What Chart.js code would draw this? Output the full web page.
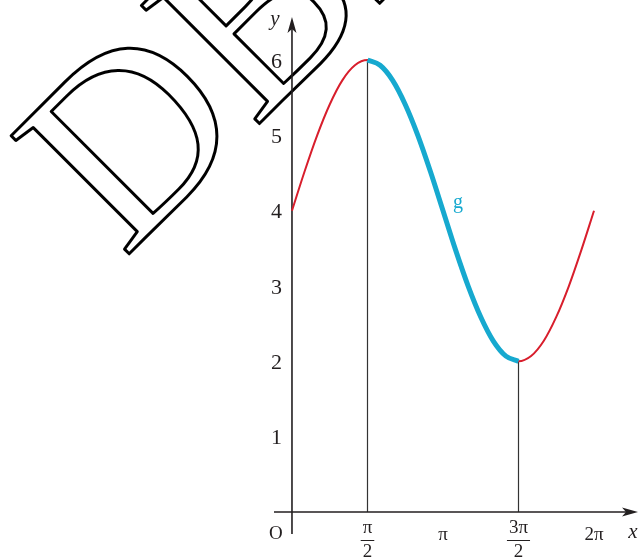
<!DOCTYPE html>
<html>
<head>
<meta charset="utf-8">
<script src="https://cdn.jsdelivr.net/npm/chart.js@4.4.1/dist/chart.umd.min.js"></script>
<style>
  html, body { margin: 0; padding: 0; background: #ffffff; }
  #wrap { width: 639px; height: 557px; position: relative; }
</style>
</head>
<body>
<div id="wrap"><canvas id="chart" width="639" height="557"></canvas></div>
<script>
// values: y = curve height at each x (radians)
const xValues = [0, 0.262, 0.524, 0.785, 1.047, 1.309, 1.571, 1.833, 2.094, 2.356, 2.618, 2.880, 3.142,
                 3.403, 3.665, 3.927, 4.189, 4.451, 4.712, 4.974, 5.236, 5.498, 5.760, 6.021, 6.283];
const yValues = [4, 4.52, 5, 5.41, 5.73, 5.93, 6, 5.93, 5.73, 5.41, 5, 4.52, 4,
                 3.48, 3, 2.59, 2.27, 2.07, 2, 2.07, 2.27, 2.59, 3, 3.48, 4];

// highlighted part g: from pi/2 to 3pi/2
const gStart = 1.571;
const gEnd = 4.712;

const yTickValues = [1, 2, 3, 4, 5, 6];
const xTickValues = [1.571, 3.142, 4.712, 6.283];
const xTickLabels = [['π', '2'], ['π'], ['3π', '2'], ['2π']];
const guideLinesX = [1.571, 4.712];
const guideLinesY = [6, 2];

const curvePoints = xValues.map((x, i) => ({ x: x, y: yValues[i] }));
const gPoints = curvePoints.filter(p => p.x >= gStart - 0.001 && p.x <= gEnd + 0.001);

const INK = '#231f20';
const RED = '#d81e2c';
const CYAN = '#16a9cf';
const SERIF = '"Liberation Serif", "DejaVu Serif", serif';

const watermarkPlugin = {
    id: 'watermark',
    beforeDatasetsDraw(chart) {
        const ctx = chart.ctx;
        ctx.save();
        ctx.translate(124, 259);
        ctx.rotate(-Math.PI / 4);
        ctx.font = '255px ' + SERIF;
        ctx.textBaseline = 'alphabetic';
        ctx.lineWidth = 3;
        ctx.lineJoin = 'round';
        ctx.strokeStyle = '#000000';
        ctx.strokeText('DBE', 0, 0);
        ctx.restore();
    }
};

function arrowHead(ctx, tipX, tipY, dx, dy) {
    // dx, dy = unit direction of the arrow
    const len = 16, half = 4.5, notch = 12;
    const px = -dy, py = dx;
    ctx.beginPath();
    ctx.moveTo(tipX, tipY);
    ctx.lineTo(tipX - dx * len + px * half, tipY - dy * len + py * half);
    ctx.lineTo(tipX - dx * notch, tipY - dy * notch);
    ctx.lineTo(tipX - dx * len - px * half, tipY - dy * len - py * half);
    ctx.closePath();
    ctx.fill();
}

const axesPlugin = {
    id: 'mathAxes',
    beforeDatasetsDraw(chart) {
        const ctx = chart.ctx;
        const xs = chart.scales.x, ys = chart.scales.y;
        const ox = xs.getPixelForValue(0), oy = ys.getPixelForValue(0);
        ctx.save();

        // guide lines from the x axis up to the curve
        ctx.strokeStyle = '#333333';
        ctx.lineWidth = 1.2;
        guideLinesX.forEach((gx, i) => {
            const px = Math.round(xs.getPixelForValue(gx)) + 0.5;
            ctx.beginPath();
            ctx.moveTo(px, oy);
            ctx.lineTo(px, ys.getPixelForValue(guideLinesY[i]));
            ctx.stroke();
        });

        // axes
        ctx.strokeStyle = INK;
        ctx.fillStyle = INK;
        ctx.lineWidth = 1.6;
        ctx.beginPath();
        ctx.moveTo(ox - 18, oy);
        ctx.lineTo(chart.width - 6, oy);
        ctx.moveTo(ox, oy + 22);
        ctx.lineTo(ox, 24);
        ctx.stroke();
        arrowHead(ctx, chart.width - 1, oy, 1, 0);
        arrowHead(ctx, ox, 17, 0, -1);

        // y tick labels
        ctx.font = '22px ' + SERIF;
        ctx.textAlign = 'right';
        ctx.textBaseline = 'alphabetic';
        yTickValues.forEach(v => {
            ctx.fillText(String(v), ox - 10, ys.getPixelForValue(v) + 7.5);
        });

        // x tick labels (fractions get a bar)
        ctx.font = '19px ' + SERIF;
        ctx.textAlign = 'center';
        ctx.fillText('O', ox - 16, 539);
        xTickValues.forEach((v, i) => {
            const px = xs.getPixelForValue(v);
            const lab = xTickLabels[i];
            if (lab.length === 1) {
                ctx.fillText(lab[0], px, 540);
            } else {
                const w = ctx.measureText(lab[0]).width + 4;
                ctx.fillText(lab[0], px, 533);
                ctx.lineWidth = 1;
                ctx.beginPath();
                ctx.moveTo(px - w / 2, 540.5);
                ctx.lineTo(px + w / 2, 540.5);
                ctx.stroke();
                ctx.fillText(lab[1], px, 557);
            }
        });

        // axis names
        ctx.font = 'italic 21px ' + SERIF;
        ctx.fillText('x', 633, 538);
        ctx.fillText('y', 275, 25);
        ctx.restore();
    },
    afterDatasetsDraw(chart) {
        const ctx = chart.ctx;
        ctx.save();
        ctx.font = '20px ' + SERIF;
        ctx.fillStyle = CYAN;
        ctx.textAlign = 'center';
        ctx.fillText('g', 458, 208);
        ctx.restore();
    }
};

new Chart(document.getElementById('chart'), {
    type: 'scatter',
    data: {
        datasets: [
            {
                data: curvePoints,
                showLine: true,
                borderColor: RED,
                borderWidth: 2,
                pointRadius: 0,
                cubicInterpolationMode: 'monotone',
                order: 2
            },
            {
                data: gPoints,
                showLine: true,
                borderColor: CYAN,
                borderWidth: 5,
                borderCapStyle: 'butt',
                pointRadius: 0,
                cubicInterpolationMode: 'monotone',
                order: 1
            }
        ]
    },
    options: {
        responsive: false,
        animation: false,
        events: [],
        layout: { padding: 0 },
        plugins: { legend: { display: false }, tooltip: { enabled: false } },
        scales: {
            x: { type: 'linear', display: false, min: -6.074, max: 7.219 },
            y: { type: 'linear', display: false, min: -0.597, max: 6.797 }
        }
    },
    plugins: [watermarkPlugin, axesPlugin]
});
</script>
</body>
</html>
